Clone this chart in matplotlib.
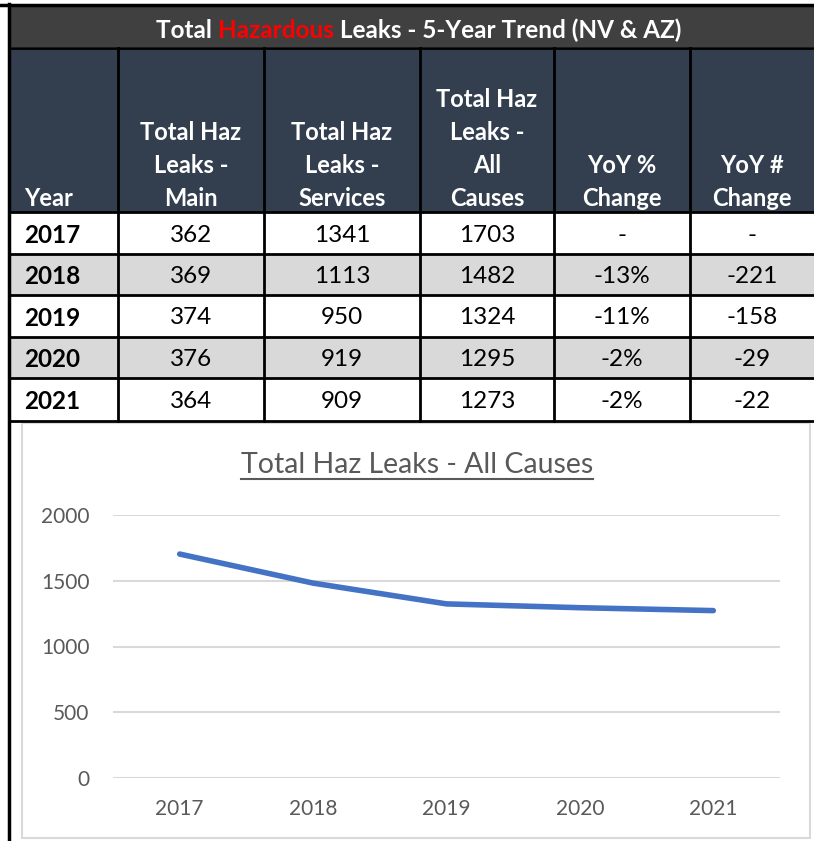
import matplotlib
matplotlib.use("Agg")
import matplotlib.pyplot as plt
from matplotlib.patches import Rectangle

plt.rcParams['font.family'] = ['Lato', 'DejaVu Sans']

# table data
years = ['2017', '2018', '2019', '2020', '2021']
haz_main = [362, 369, 374, 376, 364]
haz_services = [1341, 1113, 950, 919, 909]
haz_all = [1703, 1482, 1324, 1295, 1273]
yoy_pct = ['-', '-13%', '-11%', '-2%', '-2%']
yoy_num = ['-', '-221', '-158', '-29', '-22']

headers = ['Year', 'Total Haz\nLeaks -\nMain', 'Total Haz\nLeaks -\nServices',
           'Total Haz\nLeaks -\nAll\nCauses', 'YoY %\nChange', 'YoY #\nChange']
title_parts = [('Total ', 'white'), ('Hazardous', '#FF0000'),
               (' Leaks - 5-Year Trend (NV & AZ)', 'white')]

# layout (pixels)
W, H = 814, 841
col_edges = [10, 118, 264, 420, 554, 690, 814]
row_edges = [212, 254, 295, 337, 378, 421]
title_top, title_bot = 6, 47
head_top = 48

fig = plt.figure(figsize=(W / 100, H / 100), dpi=100)
bg = fig.add_axes([0, 0, 1, 1])
bg.set_xlim(0, W)
bg.set_ylim(H, 0)
bg.axis('off')

# title bar
bg.add_patch(Rectangle((col_edges[0], title_top), W - col_edges[0], title_bot - title_top,
                       facecolor='#404040', edgecolor='none'))
# header
bg.add_patch(Rectangle((col_edges[0], head_top), W - col_edges[0], row_edges[0] - head_top,
                       facecolor='#333F4F', edgecolor='none'))
# rows
for i in range(len(years)):
    fc = '#D9D9D9' if i % 2 == 1 else 'white'
    bg.add_patch(Rectangle((col_edges[0], row_edges[i]), W - col_edges[0],
                           row_edges[i + 1] - row_edges[i], facecolor=fc, edgecolor='none'))

# grid lines
for x in col_edges[1:-1]:
    bg.plot([x, x], [head_top, row_edges[-1]], color='black', lw=2)
for y in [title_bot + 0.5] + row_edges:
    bg.plot([col_edges[0], W], [y, y], color='black', lw=2)
bg.plot([0, W], [title_top - 1, title_top - 1], color='black', lw=2.5)
bg.plot([9, 9], [title_top - 2, H], color='black', lw=2.5)

# title with red word
fig.canvas.draw()
rend = fig.canvas.get_renderer()
txts = []
for s, c in title_parts:
    txts.append(bg.text(0, 30, s, color=c, fontsize=17.5, fontweight='bold',
                        va='center', ha='left'))
widths = [t.get_window_extent(rend).width for t in txts]
x0 = (col_edges[0] + W) / 2 + 7 - sum(widths) / 2
for t, w in zip(txts, widths):
    t.set_x(x0)
    x0 += w

# header text
for j, h in enumerate(headers):
    if j == 0:
        bg.text(col_edges[0] + 14, row_edges[0] - 2, h, color='white', fontsize=17,
                fontweight='bold', ha='left', va='bottom')
    else:
        bg.text((col_edges[j] + col_edges[j + 1]) / 2, row_edges[0] - 2, h, color='white',
                fontsize=17, fontweight='bold', ha='center', va='bottom',
                multialignment='center', linespacing=1.52)

# cell text
cols = [haz_main, haz_services, haz_all, yoy_pct, yoy_num]
for i, yr in enumerate(years):
    yc = (row_edges[i] + row_edges[i + 1]) / 2 + 2
    bg.text(col_edges[0] + 14, yc, yr, fontsize=17.5, fontweight='bold', ha='left',
            va='center', color='black')
    for j, col in enumerate(cols):
        bg.text((col_edges[j + 1] + col_edges[j + 2]) / 2, yc, str(col[i]), fontsize=17.5,
                ha='center', va='center', color='black')

# chart box
bg.add_patch(Rectangle((22, 423), 788, 415, facecolor='white', edgecolor='#D9D9D9', lw=1.5))

# line chart
ax = fig.add_axes([113 / W, 1 - 778 / H, (780 - 113) / W, (778 - 515) / H])
ax.plot(range(len(years)), haz_all, color='#4472C4', lw=4,
        solid_capstyle='round', solid_joinstyle='round', zorder=3)
ax.set_xlim(-0.5, len(years) - 0.5)
ax.set_ylim(0, 2000)
ax.set_yticks([0, 500, 1000, 1500, 2000])
ax.set_xticks(range(len(years)))
ax.set_xticklabels(years)
ax.yaxis.grid(True, color='#D9D9D9', lw=1.5)
ax.set_axisbelow(True)
for s in ax.spines.values():
    s.set_visible(False)
ax.tick_params(length=0, labelsize=15, colors='#595959')
ax.tick_params(axis='y', pad=17)
ax.tick_params(axis='x', pad=15)
ax.patch.set_alpha(0)

t = bg.text(417, 465, 'Total Haz Leaks - All Causes', fontsize=20.5, color='#595959',
            ha='center', va='center')
bb = t.get_window_extent(rend)
x_a, _ = bg.transData.inverted().transform((bb.x0, bb.y0))
x_b, _ = bg.transData.inverted().transform((bb.x1, bb.y0))
bg.plot([x_a, x_b], [479, 479], color='#595959', lw=1.5)

fig.savefig('out.png', dpi=100)
